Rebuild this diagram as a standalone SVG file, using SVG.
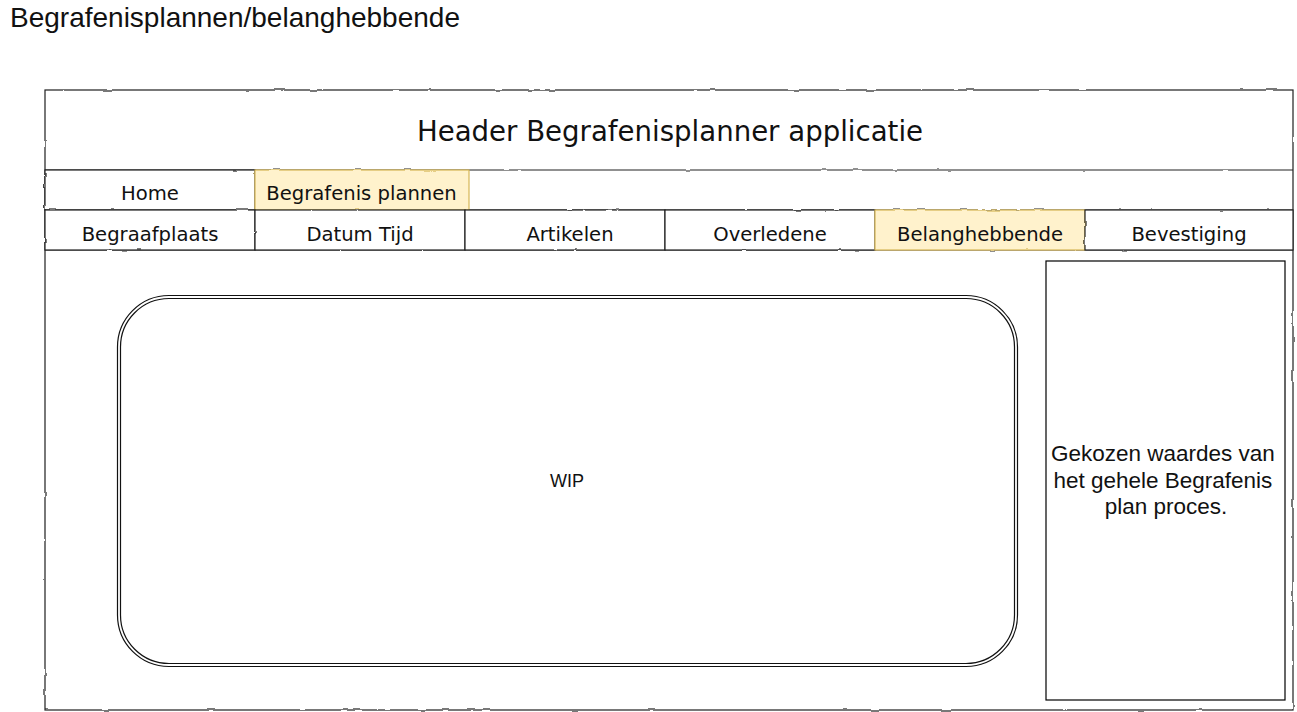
<svg xmlns="http://www.w3.org/2000/svg" width="1297" height="712" viewBox="0 0 1297 712">
  <style>
    .sk { fill: none; stroke: #222; stroke-width: 1.2; }
    .cell { fill: #ffffff; stroke: #222; stroke-width: 1.2; }
    .hl { fill: #fff2cc; stroke: #d6b656; stroke-width: 1.2; }
    .nav { font-family: "DejaVu Sans", Verdana, sans-serif; font-size: 19.6px; fill: #111; text-anchor: middle; }
    .hdr { font-family: "DejaVu Sans", Verdana, sans-serif; font-size: 27.6px; fill: #111; text-anchor: middle; }
    .ar { font-family: "Liberation Sans", Arial, sans-serif; fill: #111; }
  </style>
  <defs>
    <filter id="rough" x="-2%" y="-2%" width="104%" height="104%">
      <feTurbulence type="fractalNoise" baseFrequency="0.06" numOctaves="2" seed="3" result="n"/>
      <feDisplacementMap in="SourceGraphic" in2="n" scale="2.2" xChannelSelector="R" yChannelSelector="G"/>
    </filter>
  </defs>

  <g id="title">
    <text class="ar" x="10" y="27" font-size="28">Begrafenisplannen/belanghebbende</text>
  </g>

  <g id="frame" filter="url(#rough)">
    <rect class="sk" x="45" y="90" width="1248" height="620"/>
    <line class="sk" x1="45" y1="170" x2="1293" y2="170"/>
    <line class="sk" x1="45" y1="210" x2="1293" y2="210"/>
    <line class="sk" x1="45" y1="250" x2="1293" y2="250"/>
  </g>

  <g id="header">
    <text class="hdr" x="670" y="141">Header Begrafenisplanner applicatie</text>
  </g>

  <g id="nav-home">
    <rect class="cell" x="45" y="170" width="210" height="40" filter="url(#rough)"/>
    <text class="nav" x="150" y="200">Home</text>
  </g>
  <g id="nav-begrafenis-plannen">
    <rect class="hl" x="255" y="170" width="214" height="40" filter="url(#rough)"/>
    <text class="nav" x="361.5" y="200">Begrafenis plannen</text>
  </g>

  <g id="tab-begraafplaats">
    <rect class="cell" x="45" y="210" width="210" height="40" filter="url(#rough)"/>
    <text class="nav" x="150" y="240.5">Begraafplaats</text>
  </g>
  <g id="tab-datum-tijd">
    <rect class="cell" x="255" y="210" width="210" height="40" filter="url(#rough)"/>
    <text class="nav" x="360" y="240.5">Datum Tijd</text>
  </g>
  <g id="tab-artikelen">
    <rect class="cell" x="465" y="210" width="200" height="40" filter="url(#rough)"/>
    <text class="nav" x="570" y="240.5">Artikelen</text>
  </g>
  <g id="tab-overledene">
    <rect class="cell" x="665" y="210" width="210" height="40" filter="url(#rough)"/>
    <text class="nav" x="770" y="240.5">Overledene</text>
  </g>
  <g id="tab-belanghebbende">
    <rect class="hl" x="875" y="210" width="210" height="40" filter="url(#rough)"/>
    <text class="nav" x="980" y="240.5">Belanghebbende</text>
  </g>
  <g id="tab-bevestiging">
    <rect class="cell" x="1085" y="210" width="208" height="40" filter="url(#rough)"/>
    <text class="nav" x="1189" y="240.5">Bevestiging</text>
  </g>

  <g id="wip">
    <rect x="119" y="297" width="897" height="368" rx="50" ry="50" fill="#ffffff" stroke="#111" stroke-width="4.2"/>
    <rect x="119" y="297" width="897" height="368" rx="50" ry="50" fill="none" stroke="#ffffff" stroke-width="1.8"/>
    <text class="ar" x="567" y="487" font-size="18" text-anchor="middle">WIP</text>
  </g>

  <g id="gekozen-waardes">
    <rect x="1046" y="261" width="239" height="439" fill="#ffffff" stroke="#000" stroke-width="1.2"/>
    <text class="ar" font-size="22.5" text-anchor="middle">
      <tspan x="1166" y="461">Gekozen waardes van</tspan>
      <tspan x="1166" y="488">het gehele Begrafenis</tspan>
      <tspan x="1166" y="514">plan proces.</tspan>
    </text>
  </g>

  <g id="connectors"/>
</svg>
